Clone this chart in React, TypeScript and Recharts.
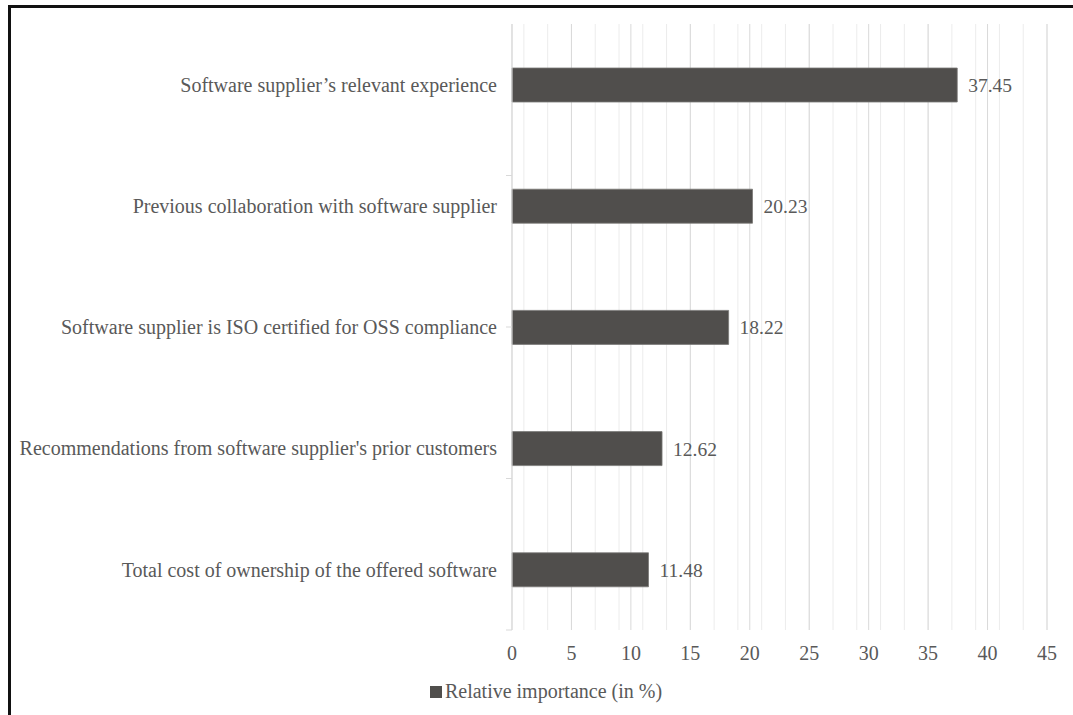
import React from 'react';
import { BarChart, Bar, XAxis, YAxis, CartesianGrid, Legend, LabelList } from 'recharts';

const categories = [
  'Software supplier’s relevant experience',
  'Previous collaboration with software supplier',
  'Software supplier is ISO certified for OSS compliance',
  "Recommendations from software supplier's prior customers",
  'Total cost of ownership of the offered software',
];
const importance = [37.45, 20.23, 18.22, 12.62, 11.48];
const xTicks = [0, 5, 10, 15, 20, 25, 30, 35, 40, 45];
const minorGrid = Array.from({ length: 46 }, (_, i) => i);
const bandEdges = [0, 1, 2, 3, 4, 5];

const data = categories.map((name, i) => ({ name, value: importance[i] }));

const FONT = "'Liberation Serif', 'DejaVu Serif', 'Times New Roman', serif";
const TEXT = '#595959';
const BAR = '#504e4c';
const FS = 20;

function LegendBox() {
  return (
    <div style={{ height: 45, display: 'flex', justifyContent: 'center', alignItems: 'flex-start', paddingTop: 10, paddingLeft: 34, boxSizing: 'border-box' }}>
      <span style={{ display: 'inline-block', width: 12, height: 12, background: BAR, marginTop: 6, marginRight: 3 }} />
      <span style={{ fontFamily: FONT, fontSize: FS, color: TEXT, lineHeight: '23px' }}>Relative importance (in %)</span>
    </div>
  );
}

export default function App() {
  return (
    <div style={{ position: 'absolute', left: 8, top: 5, width: 1065, height: 712, borderTop: '3px solid #111', borderLeft: '3px solid #111', background: '#fff' }}>
      <BarChart
        width={1062}
        height={707}
        data={data}
        layout="vertical"
        margin={{ top: 16, right: 26, left: 0, bottom: 0 }}
      >
        <CartesianGrid horizontal={false} verticalValues={minorGrid} stroke="#ececec" />
        <CartesianGrid horizontal={false} verticalValues={xTicks} stroke="#d9d9d9" />
        <XAxis
          type="number"
          domain={[0, 45]}
          ticks={xTicks}
          axisLine={false}
          tickLine={false}
          tickSize={6}
          tickMargin={10}
          height={40}
          tick={{ fontFamily: FONT, fontSize: FS, fill: TEXT }}
        />
        <YAxis
          yAxisId="a"
          type="number"
          domain={[0, 5]}
          ticks={bandEdges}
          allowDataOverflow
          reversed
          width={6}
          tick={() => <g />}
          axisLine={{ stroke: '#d9d9d9' }}
          tickLine={{ stroke: '#d9d9d9' }}
          tickSize={6}
        />
        <YAxis
          yAxisId="b"
          type="category"
          dataKey="name"
          width={495}
          axisLine={false}
          tickLine={false}
          tickSize={0}
          tickMargin={9}
          tick={{ fontFamily: FONT, fontSize: FS, fill: TEXT }}
        />
        <Legend verticalAlign="bottom" content={() => <LegendBox />} />
        <Bar yAxisId="b" dataKey="value" fill={BAR} stroke="#7a7876" strokeWidth={0.8} barSize={34} isAnimationActive={false}>
          <LabelList
            dataKey="value"
            position="right"
            offset={11}
            formatter={(v: any) => Number(v).toFixed(2)}
            style={{ fontFamily: FONT, fontSize: 19.5, fill: TEXT }}
          />
        </Bar>
      </BarChart>
    </div>
  );
}
